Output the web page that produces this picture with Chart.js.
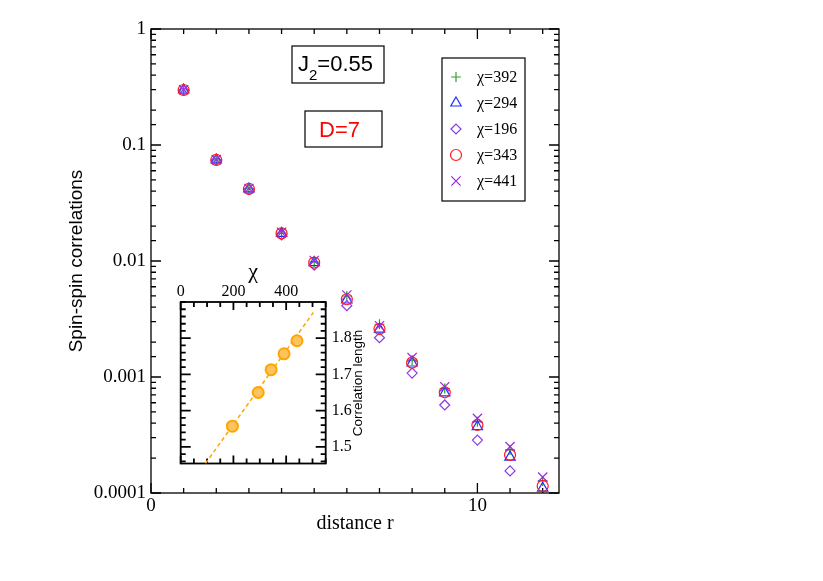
<!DOCTYPE html>
<html>
<head>
<meta charset="utf-8">
<script src="https://cdn.jsdelivr.net/npm/chart.js@4.4.1/dist/chart.umd.min.js"></script>
<style>
  body { margin: 0; background: #fff; }
  .wrap { position: relative; width: 823px; height: 581px; }
  #main { position: absolute; left: 0; top: 0; }
  #inset { position: absolute; left: 130px; top: 250px; }
</style>
</head>
<body>
<div class="wrap">
  <canvas id="main" width="823" height="581"></canvas>
  <canvas id="inset" width="250" height="230"></canvas>
</div>
<script>
// main panel: spin-spin correlations vs distance, one list per bond dimension chi
const distances = [1, 2, 3, 4, 5, 6, 7, 8, 9, 10, 11, 12]
const corrChi392 = [0.298, 0.0743, 0.0418, 0.0174, 0.0098, 0.00499, 0.00285, 0.00140, 0.000796, 0.000412, 0.000235, 0.000127]
const corrChi294 = [0.298, 0.0743, 0.0418, 0.0173, 0.0097, 0.00461, 0.00259, 0.00132, 0.000730, 0.000373, 0.000204, 0.000110]
const corrChi196 = [0.296, 0.0737, 0.0412, 0.0168, 0.0092, 0.00412, 0.00218, 0.00108, 0.000574, 0.000286, 0.000155, 0.000080]
const corrChi343 = [0.298, 0.0743, 0.0418, 0.0173, 0.0097, 0.00468, 0.00259, 0.00133, 0.000738, 0.000386, 0.000213, 0.000115]
const corrChi441 = [0.299, 0.0748, 0.0422, 0.0177, 0.0101, 0.00509, 0.00277, 0.00147, 0.000825, 0.000440, 0.000251, 0.000137]
const xLabelValues = [0, 10]
const yTickLabels = ['0.0001', '0.001', '0.01', '0.1', '1']

// inset: correlation length vs chi, plus the dashed linear fit
const chiValues = [196, 294, 343, 392, 441]
const corrLength = [1.557, 1.650, 1.713, 1.757, 1.793]
const fitChi = [94, 503]
const fitLength = [1.454, 1.871]
const insetXLabelValues = [0, 200, 400]
const insetYLabelValues = [1.5, 1.6, 1.7, 1.8]

const SERIF = "'Liberation Serif', 'Times New Roman', serif"
const SANS = "'Liberation Sans', Arial, sans-serif"

const toPoints = (xs, ys) => xs.map((x, i) => ({ x, y: ys[i] }))

/**
 * Draws the box frame and the inward tick marks on all four sides.
 */
function drawFrame (chart, xMajor, yMajor, lens, lineWidth) {
  const { ctx, chartArea: a, scales } = chart
  ctx.save()
  ctx.strokeStyle = '#000'
  ctx.lineWidth = lineWidth
  ctx.beginPath()
  for (const t of scales.x.ticks) {
    const px = scales.x.getPixelForValue(t.value)
    if (px < a.left - 0.5 || px > a.right + 0.5) continue
    const len = xMajor(t.value) ? lens.xMajor : lens.xMinor
    ctx.moveTo(px, a.bottom); ctx.lineTo(px, a.bottom - len)
    ctx.moveTo(px, a.top); ctx.lineTo(px, a.top + len)
  }
  for (const t of scales.y.ticks) {
    const py = scales.y.getPixelForValue(t.value)
    if (py < a.top - 0.5 || py > a.bottom + 0.5) continue
    const len = yMajor(t.value) ? lens.yMajor : lens.yMinor
    ctx.moveTo(a.left, py); ctx.lineTo(a.left + len, py)
    ctx.moveTo(a.right, py); ctx.lineTo(a.right - len, py)
  }
  ctx.stroke()
  ctx.strokeRect(a.left, a.top, a.right - a.left, a.bottom - a.top)
  ctx.restore()
}

const isDecade = v => Math.abs(Math.log10(v) - Math.round(Math.log10(v))) < 1e-6
const near = (v, list) => list.some(l => Math.abs(v - l) < 1e-6)

const series = [
  { label: 'χ=392', values: corrChi392, pointStyle: 'cross', radius: 5, color: '#2f9f2f', order: 5 },
  { label: 'χ=294', values: corrChi294, pointStyle: 'triangle', radius: 6, color: '#1f2fff', order: 4 },
  { label: 'χ=196', values: corrChi196, pointStyle: 'rectRot', radius: 5, color: '#8a3ce0', order: 3 },
  { label: 'χ=343', values: corrChi343, pointStyle: 'circle', radius: 5.5, color: '#ff1a1a', order: 2 },
  { label: 'χ=441', values: corrChi441, pointStyle: 'crossRot', radius: 6.5, color: '#9a2ad8', order: 1 }
]

const mainPlugin = {
  id: 'mainDecor',
  beforeDatasetsDraw (chart) {
    drawFrame(chart, v => v % 10 === 0, isDecade, { xMajor: 10, xMinor: 5, yMajor: 10, yMinor: 5 }, 1.3)
  },
  afterDraw (chart) {
    const ctx = chart.ctx
    ctx.save()
    ctx.strokeStyle = '#000'
    ctx.lineWidth = 1.2

    // J2 = 0.55 box
    ctx.strokeRect(292, 46, 92, 37)
    ctx.fillStyle = '#000'
    ctx.textBaseline = 'alphabetic'
    ctx.font = `22px ${SANS}`
    ctx.fillText('J', 298, 71)
    let x = 298 + ctx.measureText('J').width
    ctx.font = `15px ${SANS}`
    ctx.fillText('2', x, 80)
    x += ctx.measureText('2').width
    ctx.font = `22px ${SANS}`
    ctx.fillText('=0.55', x, 71)

    // D = 7 box
    ctx.strokeRect(305, 111, 77, 36)
    ctx.fillStyle = '#ff0000'
    ctx.fillText('D=7', 319, 137)

    // legend
    ctx.strokeRect(442, 58, 83, 143)
    ctx.font = `16px ${SERIF}`
    ctx.textBaseline = 'middle'
    chart.data.datasets.forEach((ds, i) => {
      const y = 77 + i * 26
      ctx.strokeStyle = ds.borderColor
      ctx.fillStyle = 'rgba(0,0,0,0)'
      ctx.lineWidth = 1.2
      Chart.helpers.drawPoint(ctx, { pointStyle: ds.pointStyle, radius: ds.pointRadius, rotation: 0, borderWidth: 1.2 }, 456, y)
      ctx.fillStyle = '#000'
      ctx.fillText(ds.label, 477, y + 1)
    })
    ctx.restore()
  }
}

new Chart(document.getElementById('main'), {
  type: 'scatter',
  data: {
    datasets: series.map(s => ({
      label: s.label,
      data: toPoints(distances, s.values),
      pointStyle: s.pointStyle,
      pointRadius: s.radius,
      pointHoverRadius: s.radius,
      pointBorderWidth: 1.2,
      borderColor: s.color,
      backgroundColor: 'rgba(0,0,0,0)',
      order: s.order
    }))
  },
  options: {
    responsive: false,
    animation: false,
    events: [],
    layout: { padding: { left: 0, top: 29, right: 264, bottom: 0 } },
    plugins: { legend: { display: false }, tooltip: { enabled: false } },
    scales: {
      x: {
        type: 'linear',
        min: 0,
        max: 12.5,
        afterFit (scale) { scale.height = 88 },
        grid: { display: false, drawTicks: false },
        border: { display: false },
        ticks: {
          stepSize: 1,
          includeBounds: false,
          autoSkip: false,
          maxRotation: 0,
          padding: 2,
          color: '#000',
          font: { family: SERIF, size: 19 },
          callback: v => near(v, xLabelValues) ? String(v) : ''
        },
        title: {
          display: true,
          text: 'distance r',
          color: '#000',
          font: { family: SERIF, size: 20 },
          padding: { top: 0, bottom: 45 }
        }
      },
      y: {
        type: 'logarithmic',
        min: 0.0001,
        max: 1,
        afterFit (scale) { scale.width = 151 },
        grid: { display: false, drawTicks: false },
        border: { display: false },
        ticks: {
          autoSkip: false,
          padding: 5,
          color: '#000',
          font: { family: SERIF, size: 19 },
          callback: v => isDecade(v) ? yTickLabels[Math.round(Math.log10(v)) + 4] : ''
        },
        title: {
          display: true,
          text: 'Spin-spin correlations',
          color: '#000',
          font: { family: SANS, size: 19 },
          padding: { top: 65, bottom: 0 }
        }
      }
    }
  },
  plugins: [mainPlugin]
})

const insetPlugin = {
  id: 'insetDecor',
  beforeDraw (chart) {
    const { ctx, chartArea: a } = chart
    ctx.save()
    ctx.fillStyle = '#fff'
    ctx.fillRect(a.left, a.top, a.right - a.left, a.bottom - a.top)
    ctx.restore()
  },
  beforeDatasetsDraw (chart) {
    drawFrame(chart, v => near(v, insetXLabelValues), v => near(v, insetYLabelValues), { xMajor: 8, xMinor: 5, yMajor: 10, yMinor: 5 }, 1.8)
  },
  afterDraw (chart) {
    const ctx = chart.ctx
    ctx.save()
    ctx.translate(228, 133)
    ctx.rotate(-Math.PI / 2)
    ctx.font = `13.5px ${SANS}`
    ctx.fillStyle = '#000'
    ctx.textAlign = 'center'
    ctx.textBaseline = 'middle'
    ctx.fillText('Correlation length', 0, 0)
    ctx.restore()
  }
}

new Chart(document.getElementById('inset'), {
  type: 'scatter',
  data: {
    datasets: [
      {
        data: toPoints(chiValues, corrLength),
        pointStyle: 'circle',
        pointRadius: 5.5,
        pointBorderWidth: 2,
        borderColor: '#ffa500',
        backgroundColor: '#fcc460',
        order: 1
      },
      {
        data: toPoints(fitChi, fitLength),
        showLine: true,
        pointRadius: 0,
        borderColor: '#ffa500',
        borderWidth: 1.5,
        borderDash: [4, 3],
        order: 2
      }
    ]
  },
  options: {
    responsive: false,
    animation: false,
    events: [],
    layout: { padding: { left: 50.7, top: 0, right: 0, bottom: 16.5 } },
    plugins: { legend: { display: false }, tooltip: { enabled: false } },
    scales: {
      x: {
        type: 'linear',
        position: 'top',
        min: 0,
        max: 550,
        afterFit (scale) { scale.height = 52 },
        grid: { display: false, drawTicks: false },
        border: { display: false },
        ticks: {
          stepSize: 50,
          includeBounds: false,
          autoSkip: false,
          maxRotation: 0,
          padding: 1,
          color: '#000',
          font: { family: SERIF, size: 16 },
          callback: v => near(v, insetXLabelValues) ? String(v) : ''
        },
        title: {
          display: true,
          text: 'χ',
          color: '#000',
          font: { family: SERIF, size: 22 },
          padding: { top: 9, bottom: 0 }
        }
      },
      y: {
        type: 'linear',
        position: 'right',
        min: 1.454,
        max: 1.9,
        afterFit (scale) { scale.width = 54.3 },
        grid: { display: false, drawTicks: false },
        border: { display: false },
        ticks: {
          stepSize: 0.02,
          includeBounds: false,
          autoSkip: false,
          padding: 6,
          color: '#000',
          font: { family: SERIF, size: 16 },
          callback: v => near(v, insetYLabelValues) ? v.toFixed(1) : ''
        }
      }
    }
  },
  plugins: [insetPlugin]
})
</script>
</body>
</html>
